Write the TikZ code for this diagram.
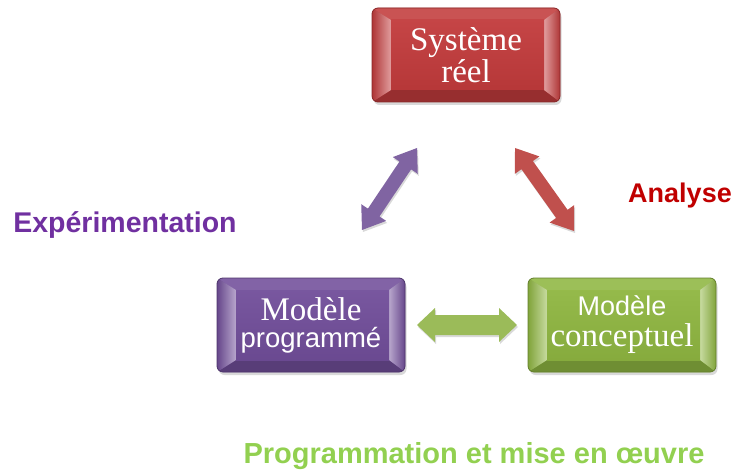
\documentclass[tikz,border=0pt]{standalone}
\usepackage{fontspec}
\setmainfont{Liberation Serif}
\setsansfont{Liberation Sans}
\usetikzlibrary{calc,shadows}

\definecolor{redbox}{HTML}{C23B3C}
\definecolor{purplebox}{HTML}{714E9A}
\definecolor{greenbox}{HTML}{8FB641}
\definecolor{redarrow}{HTML}{C0504D}
\definecolor{purplearrow}{HTML}{8064A2}
\definecolor{greenarrow}{HTML}{9BBB59}
\definecolor{labpurple}{HTML}{7030A0}
\definecolor{labred}{HTML}{C00000}
\definecolor{labgreen}{HTML}{92D050}

% bevelled face drawn inside a box (used as path picture)
\newcommand\bevelface[1]{%
  \coordinate (bnw) at (path picture bounding box.north west);
  \coordinate (bne) at (path picture bounding box.north east);
  \coordinate (bsw) at (path picture bounding box.south west);
  \coordinate (bse) at (path picture bounding box.south east);
  \coordinate (inw) at ($(bnw)+(19pt,-12pt)$);
  \coordinate (ine) at ($(bne)+(-16pt,-12pt)$);
  \coordinate (isw) at ($(bsw)+(19pt,12pt)$);
  \coordinate (ise) at ($(bse)+(-16pt,12pt)$);
  \fill[sharp corners,#1!88!white] (bnw) -- (bne) -- (ine) -- (inw) -- cycle;
  \fill[sharp corners,#1!78!black] (bsw) -- (bse) -- (ise) -- (isw) -- cycle;
  \shade[sharp corners,left color=#1!90!black,right color=#1!50!white] (bnw) -- (inw) -- (isw) -- (bsw) -- cycle;
  \shade[sharp corners,left color=#1!50!white,right color=#1!90!black] (bne) -- (ine) -- (ise) -- (bse) -- cycle;
  \shade[sharp corners,top color=#1!95!white,bottom color=#1!94!black] (inw) rectangle (ise);
}

% double-headed block arrow between two points
% #1 #2 tips, #3 half body width, #4 half head width, #5 head length, #6 colour
\newcommand\blockarrow[6]{%
  \coordinate (ha) at ($(#1)!#5!(#2)$);
  \coordinate (hb) at ($(#2)!#5!(#1)$);
  \fill[#6,drop shadow={opacity=0.3,shadow xshift=1pt,shadow yshift=-2pt}]
    ($(ha)!#3!90:(#2)$) -- ($(ha)!#4!90:(#2)$) -- (#1) --
    ($(ha)!#4!-90:(#2)$) -- ($(ha)!#3!-90:(#2)$) --
    ($(hb)!#3!90:(#1)$) -- ($(hb)!#4!90:(#1)$) -- (#2) --
    ($(hb)!#4!-90:(#1)$) -- ($(hb)!#3!-90:(#1)$) -- cycle;
}

\tikzset{
  box/.style={rounded corners=6pt, minimum width=188pt, minimum height=94pt,
    inner sep=0pt, fill=#1, draw=#1!70!black, line width=0.8pt,
    text=white, align=center,
    drop shadow={opacity=0.3,shadow xshift=1.5pt,shadow yshift=-3pt},
    path picture={\bevelface{#1}}},
  label text/.style={text=#1, inner sep=0pt, anchor=base},
}

\begin{document}
\begin{tikzpicture}[x=1pt,y=-1pt]
  \useasboundingbox (0,0) rectangle (738,470);

  % the three boxes
  \node[box=redbox, font=\fontsize{33}{32}\selectfont] (reel) at (466,55)
    {Système\\réel};
  \node[box=purplebox, font=\fontsize{33}{27}\selectfont] (prog) at (311,325)
    {Modèle\\{\sffamily\fontsize{27.5}{27}\selectfont programmé}};
  \node[box=greenbox, font=\fontsize{33}{31}\selectfont] (conc) at (622,325)
    {{\sffamily\fontsize{27}{31}\selectfont Modèle}\\conceptuel};

  % arrow end points
  \coordinate (pa) at (362,230);
  \coordinate (pb) at (417,148);
  \coordinate (ra) at (515,148);
  \coordinate (rb) at (574,231);
  \coordinate (ga) at (417,325);
  \coordinate (gb) at (517,325);

  \blockarrow{pa}{pb}{7pt}{15pt}{21pt}{purplearrow}
  \blockarrow{ra}{rb}{7pt}{15pt}{21pt}{redarrow}
  \blockarrow{ga}{gb}{10pt}{17pt}{18pt}{greenarrow}

  % labels
  \node[label text=labpurple, font=\sffamily\bfseries\fontsize{28.5}{30}\selectfont] (exp) at (125,233) {Expérimentation};
  \node[label text=labred, font=\sffamily\bfseries\fontsize{27}{30}\selectfont] (ana) at (680,203) {Analyse};
  \node[label text=labgreen, font=\sffamily\bfseries\fontsize{29}{30}\selectfont] (pmo) at (474,463) {Programmation et mise en œuvre};
\end{tikzpicture}
\end{document}
